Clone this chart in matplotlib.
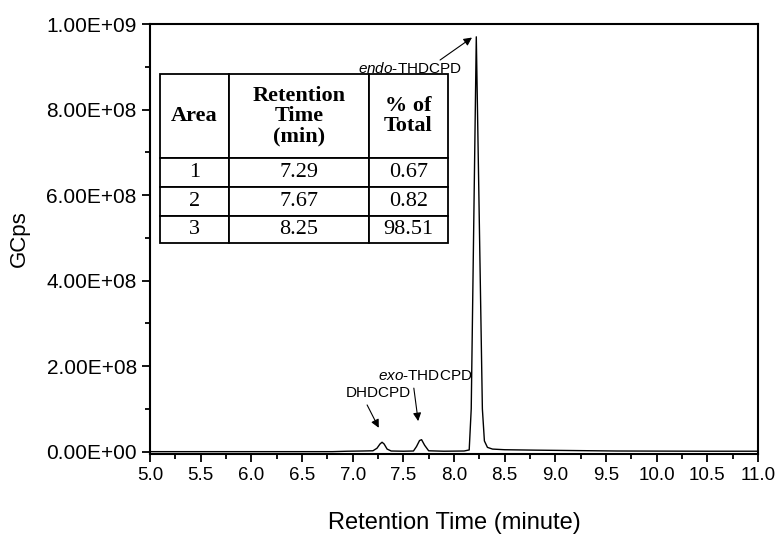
import matplotlib.pyplot as plt
from matplotlib.ticker import MultipleLocator

plt.rcParams['font.family'] = ['Liberation Sans', 'DejaVu Sans']
plt.rcParams['mathtext.fontset'] = 'custom'
plt.rcParams['mathtext.it'] = 'Liberation Sans:italic'
plt.rcParams['mathtext.rm'] = 'Liberation Sans'

# chromatogram trace
time_min = [5.0, 6.8, 6.95, 7.1, 7.2, 7.24, 7.27, 7.29, 7.31, 7.34, 7.38, 7.5,
            7.6, 7.63, 7.66, 7.68, 7.71, 7.75, 7.9, 8.1, 8.15, 8.17, 8.22,
            8.28, 8.3, 8.33, 8.38, 8.5, 8.8, 9.2, 9.6, 10.5, 11.0]
gcps = [0.0, 0.0, 1.0e6, 1.5e6, 2.0e6, 8.0e6, 1.8e7, 2.2e7, 1.8e7, 6.0e6,
        1.5e6, 1.0e6, 1.5e6, 1.2e7, 2.6e7, 2.8e7, 1.5e7, 2.0e6, 1.0e6, 1.5e6,
        4.0e6, 1.0e8, 9.7e8, 1.0e8, 2.5e7, 1.0e7, 6.0e6, 4.5e6, 3.5e6, 2.5e6,
        1.5e6, 1.0e6, 1.0e6]

y_ticks = [0, 2e8, 4e8, 6e8, 8e8, 1e9]
y_tick_labels = ['0.00E+00', '2.00E+08', '4.00E+08', '6.00E+08', '8.00E+08', '1.00E+09']

# peak table
table_header = ['Area', 'Retention\nTime\n(min)', '% of\nTotal']
area_no = ['1', '2', '3']
ret_time = ['7.29', '7.67', '8.25']
pct_total = ['0.67', '0.82', '98.51']

fig = plt.figure(figsize=(7.76, 5.39), dpi=100)
ax = fig.add_axes([150 / 776, 85 / 539, 608 / 776, 430 / 539])

ax.plot(time_min, gcps, color='black', linewidth=1.0)

ax.set_xlim(5.0, 11.0)
ax.set_ylim(-5.5e6, 1.0e9)
ax.xaxis.set_major_locator(MultipleLocator(0.5))
ax.xaxis.set_minor_locator(MultipleLocator(0.25))
ax.set_yticks(y_ticks)
ax.set_yticklabels(y_tick_labels)
ax.yaxis.set_minor_locator(MultipleLocator(1e8))
ax.tick_params(which='both', direction='out', width=1.3)
ax.tick_params(axis='x', labelsize=13.5)
ax.tick_params(axis='y', labelsize=15)
ax.tick_params(which='major', length=6)
ax.tick_params(which='minor', length=3.5)
for s in ax.spines.values():
    s.set_linewidth(1.5)

ax.set_xlabel('Retention Time (minute)', fontsize=17, labelpad=20)
ax.set_ylabel('GCps', fontsize=16, labelpad=12)

# labels + arrows
arrow = dict(arrowstyle='-|>', color='black', lw=0.8, mutation_scale=12)
ax.text(7.56, 0.895e9, r'$\it{endo}$-THDCPD', fontsize=11, ha='center', va='center')
ax.annotate('', xy=(8.2, 0.972e9), xytext=(7.84, 0.912e9), arrowprops=arrow)
ax.text(7.25, 0.137e9, 'DHDCPD', fontsize=11, ha='center', va='center')
ax.annotate('', xy=(7.27, 0.05e9), xytext=(7.13, 0.115e9), arrowprops=arrow)
ax.text(7.72, 0.177e9, r'$\it{exo}$-THDCPD', fontsize=11, ha='center', va='center')
ax.annotate('', xy=(7.65, 0.065e9), xytext=(7.6, 0.155e9), arrowprops=arrow)

# table drawn in axes coordinates
cells = [[a, r, p] for a, r, p in zip(area_no, ret_time, pct_total)]
tbl = ax.table(cellText=cells, colLabels=table_header, cellLoc='center',
               bbox=[10 / 608, 211 / 430, 288 / 608, 169 / 430])
tbl.auto_set_font_size(False)
col_w = [69, 140, 79]
row_h = [84, 29, 29, 27]
for (r, c), cell in tbl.get_celld().items():
    cell.set_width(col_w[c])
    cell.set_height(row_h[r])
    cell.set_linewidth(1.3)
    cell.set_edgecolor('black')
    t = cell.get_text()
    t.set_fontfamily('Liberation Serif')
    t.set_fontsize(16)
    if r == 0:
        t.set_fontweight('bold')
        t.set_linespacing(1.0)

fig.savefig('out.png', dpi=100)
